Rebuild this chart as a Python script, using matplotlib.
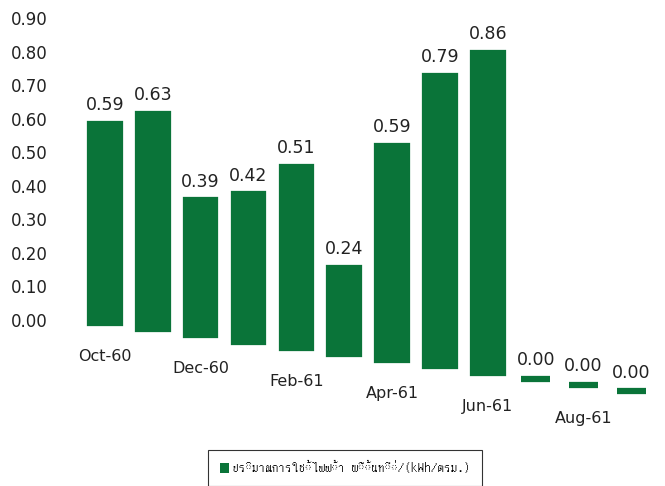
import numpy as np
import matplotlib
matplotlib.use("Agg")
import matplotlib.pyplot as plt
from matplotlib.transforms import Affine2D
from matplotlib import font_manager, ft2font

months = ["Oct-60", "Nov-60", "Dec-60", "Jan-61", "Feb-61", "Mar-61",
          "Apr-61", "May-61", "Jun-61", "Jul-61", "Aug-61", "Sep-61"]
values = [0.59, 0.63, 0.39, 0.42, 0.51, 0.24, 0.59, 0.79, 0.86, 0.00, 0.00, 0.00]
yticks = [0.0, 0.1, 0.2, 0.3, 0.4, 0.5, 0.6, 0.7, 0.8, 0.9]
legend_label = "ปริมาณการใช้ไฟฟ้า พื้นที่/(kWh/ตรม.)"

green = "#0a7439"


# pick any installed font that has Thai glyphs
def thai_font():
    for f in font_manager.findSystemFonts():
        try:
            if 0x0E1B in ft2font.FT2Font(f).get_charmap():
                return font_manager.FontProperties(fname=f).get_name()
        except Exception:
            pass
    return "DejaVu Sans"


fig = plt.figure(figsize=(6.65, 4.86), dpi=100)
ax = fig.add_axes([0.111, 0.342, 0.878, 0.621])

x = np.arange(len(months))
bars = ax.bar(x, values, width=0.62, color=green, edgecolor=green,
              linewidth=4.5, label=legend_label)
ax.set_xlim(-0.65, 11.55)
ax.set_ylim(0, 0.9)

# fake the tilted 3D look of the original: each bar sinks and grows a bit
# the further right it stands (flat tops, sloping floor)
x0 = ax.transData.transform((-0.5, 0))[0]
yb = ax.transData.transform((0, 0))[1]


def persp(i):
    xc = ax.transData.transform((i, 0))[0]
    s = 1 + 0.00027 * (xc - x0)
    return ax.transData + (Affine2D().translate(0, -yb).scale(1, s)
                           .translate(0, yb - 0.13 * (xc - x0)))


for i, b in enumerate(bars):
    b.set_transform(persp(i))
    b.set_clip_on(False)

for i, v in enumerate(values):
    ax.annotate(f"{v:.2f}", xy=(i, v), xycoords=persp(i), xytext=(0, 7),
                textcoords="offset points", ha="center", va="bottom",
                fontsize=12.5, color="#222222")

for i in range(0, len(months), 2):
    ax.annotate(months[i], xy=(i, 0), xycoords=persp(i), xytext=(0, -24),
                textcoords="offset points", ha="center", va="center",
                fontsize=11.5, color="#222222")

ax.set_xticks([])
ax.set_yticks(yticks)
ax.set_yticklabels([f"{t:.2f}" for t in yticks], fontsize=12, color="#222222")
ax.tick_params(axis="y", length=0, pad=18.5)
for s in ax.spines.values():
    s.set_visible(False)

leg = fig.legend(loc="center", bbox_to_anchor=(0.519, 0.037),
                 prop={"family": [thai_font(), "DejaVu Sans"], "size": 9.5},
                 handlelength=0.7, handleheight=0.7, handletextpad=0.2,
                 fancybox=False, edgecolor="black", borderpad=0.9)
leg.get_frame().set_linewidth(0.8)
for h in leg.legend_handles:
    h.set_linewidth(0)

fig.savefig("out.png", dpi=100)
